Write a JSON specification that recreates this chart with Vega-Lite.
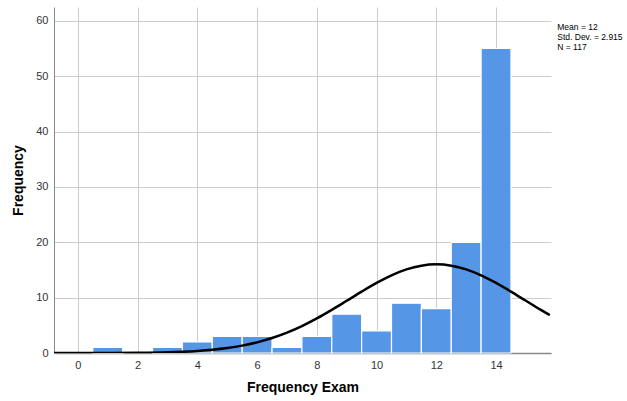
{
  "$schema": "https://vega.github.io/schema/vega-lite/v6.json",
  "width": 497,
  "height": 346,
  "autosize": "none",
  "padding": {"left": 54, "top": 7, "right": 76, "bottom": 48},
  "background": "white",
  "config": {
    "view": {"stroke": null},
    "font": "Liberation Sans",
    "axis": {
      "labelFont": "Liberation Sans",
      "titleFont": "Liberation Sans",
      "labelFontSize": 11,
      "labelColor": "#333333",
      "titleColor": "#000000",
      "titleFontSize": 14,
      "titleFontWeight": "bold",
      "gridColor": "#cccccc",
      "gridWidth": 1,
      "ticks": false,
      "domainColor": "#888888"
    }
  },
  "datasets": {
    "bars": [
      {"x0": 0.5, "x1": 1.5, "count": 1},
      {"x0": 2.5, "x1": 3.5, "count": 1},
      {"x0": 3.5, "x1": 4.5, "count": 2},
      {"x0": 4.5, "x1": 5.5, "count": 3},
      {"x0": 5.5, "x1": 6.5, "count": 3},
      {"x0": 6.5, "x1": 7.5, "count": 1},
      {"x0": 7.5, "x1": 8.5, "count": 3},
      {"x0": 8.5, "x1": 9.5, "count": 7},
      {"x0": 9.5, "x1": 10.5, "count": 4},
      {"x0": 10.5, "x1": 11.5, "count": 9},
      {"x0": 11.5, "x1": 12.5, "count": 8},
      {"x0": 12.5, "x1": 13.5, "count": 20},
      {"x0": 13.5, "x1": 14.5, "count": 55}
    ],
    "curve": [
      {"x": -0.8, "y": 0.001},
      {"x": 0, "y": 0.0033},
      {"x": 1, "y": 0.013},
      {"x": 2, "y": 0.0445},
      {"x": 3, "y": 0.136},
      {"x": 3.5, "y": 0.228},
      {"x": 4, "y": 0.370},
      {"x": 4.5, "y": 0.585},
      {"x": 5, "y": 0.896},
      {"x": 5.5, "y": 1.333},
      {"x": 6, "y": 1.926},
      {"x": 6.5, "y": 2.700},
      {"x": 7, "y": 3.678},
      {"x": 7.5, "y": 4.864},
      {"x": 8, "y": 6.246},
      {"x": 8.5, "y": 7.789},
      {"x": 9, "y": 9.430},
      {"x": 9.5, "y": 11.085},
      {"x": 10, "y": 12.654},
      {"x": 10.5, "y": 14.027},
      {"x": 11, "y": 15.097},
      {"x": 11.5, "y": 15.779},
      {"x": 12, "y": 16.012},
      {"x": 12.5, "y": 15.779},
      {"x": 13, "y": 15.097},
      {"x": 13.5, "y": 14.027},
      {"x": 14, "y": 12.654},
      {"x": 14.5, "y": 11.085},
      {"x": 15, "y": 9.430},
      {"x": 15.5, "y": 7.789},
      {"x": 15.8, "y": 6.847}
    ],
    "stats": [
      {"x": 16.05, "y": 58.9, "label": "Mean = 12"},
      {"x": 16.05, "y": 57.05, "label": "Std. Dev. = 2.915"},
      {"x": 16.05, "y": 55.2, "label": "N = 117"}
    ]
  },
  "layer": [
    {
      "data": {"name": "bars"},
      "mark": {"type": "bar", "color": "#5596e6", "stroke": "white", "strokeWidth": 1.2},
      "encoding": {
        "x": {
          "field": "x0", "type": "quantitative",
          "scale": {"domain": [-0.8, 15.84], "nice": false, "zero": false},
          "axis": {"values": [0, 2, 4, 6, 8, 10, 12, 14], "title": "Frequency Exam", "labelPadding": 6, "titlePadding": 10, "grid": true, "domainWidth": 1.5}
        },
        "x2": {"field": "x1"},
        "y": {
          "field": "count", "type": "quantitative",
          "scale": {"domain": [0, 62.5], "nice": false},
          "axis": {"values": [0, 10, 20, 30, 40, 50, 60], "title": "Frequency", "labelPadding": 6, "titlePadding": 10, "grid": true}
        },
        "y2": {"datum": 0}
      }
    },
    {
      "data": {"name": "curve"},
      "mark": {"type": "line", "color": "black", "strokeWidth": 2.5, "interpolate": "monotone", "clip": true},
      "encoding": {
        "x": {"field": "x", "type": "quantitative"},
        "y": {"field": "y", "type": "quantitative"}
      }
    },
    {
      "data": {"name": "stats"},
      "mark": {"type": "text", "align": "left", "baseline": "middle", "fontSize": 8.5, "font": "Liberation Sans", "color": "#000000"},
      "encoding": {
        "x": {"field": "x", "type": "quantitative"},
        "y": {"field": "y", "type": "quantitative"},
        "text": {"field": "label"}
      }
    }
  ]
}
